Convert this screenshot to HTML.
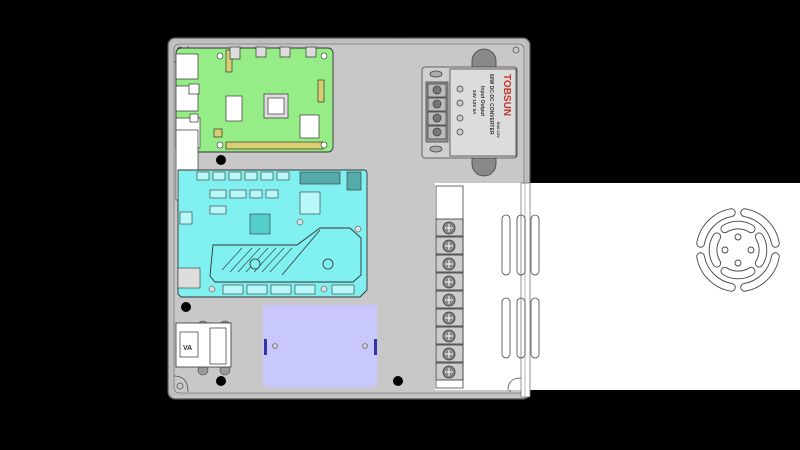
<!DOCTYPE html>
<html><head><meta charset="utf-8"><style>
html,body{margin:0;padding:0;background:#000;width:800px;height:450px;overflow:hidden}
svg{display:block}
text{font-family:"Liberation Sans",sans-serif;font-weight:bold}
</style></head><body>
<svg width="800" height="450" viewBox="0 0 800 450" xmlns="http://www.w3.org/2000/svg">
<rect width="800" height="450" fill="#000"/>
<!-- enclosure -->
<rect x="168" y="38" width="362" height="361" rx="7" fill="#c4c4c4" stroke="#555" stroke-width="1.2"/>
<rect x="174" y="44" width="350" height="349" rx="5" fill="#c8c8c8" stroke="#777" stroke-width="0.8"/>
<g stroke="#aaa" stroke-width="0.6">
<line x1="170" y1="41" x2="528" y2="41"/><line x1="170" y1="395" x2="528" y2="395"/>
<line x1="171" y1="40" x2="171" y2="397"/><line x1="527" y1="40" x2="527" y2="397"/>
<line x1="260" y1="38" x2="260" y2="46"/><line x1="400" y1="38" x2="400" y2="46"/>
</g>
<g fill="none" stroke="#555" stroke-width="0.8">
<circle cx="180" cy="50" r="3"/><circle cx="516" cy="50" r="3"/>
<circle cx="180" cy="386" r="3"/><circle cx="516" cy="386" r="3"/>
<path d="M174 376 q14 0 14 16"/><path d="M524 376 q-14 0 -14 16"/>
<path d="M174 62 q14 0 14 -16"/>
</g>
<!-- PSU -->
<rect x="435" y="183" width="365" height="207" fill="#fff"/>
<rect x="436" y="186" width="27" height="202" fill="#fff" stroke="#444" stroke-width="0.8"/>
<g stroke="#333" stroke-width="0.8">
<rect x="436" y="219" width="27" height="17" fill="#ccc"/>
<rect x="436" y="237" width="27" height="17" fill="#ccc"/>
<rect x="436" y="255" width="27" height="17" fill="#ccc"/>
<rect x="436" y="273" width="27" height="17" fill="#ccc"/>
<rect x="436" y="291" width="27" height="17" fill="#ccc"/>
<rect x="436" y="309" width="27" height="17" fill="#ccc"/>
<rect x="436" y="327" width="27" height="17" fill="#ccc"/>
<rect x="436" y="345" width="27" height="17" fill="#ccc"/>
<rect x="436" y="363" width="27" height="17" fill="#ccc"/>
</g>
<g fill="#888" stroke="#333" stroke-width="0.8">
<circle cx="449" cy="228" r="6"/><circle cx="449" cy="246" r="6"/><circle cx="449" cy="264" r="6"/>
<circle cx="449" cy="282" r="6"/><circle cx="449" cy="300" r="6"/><circle cx="449" cy="318" r="6"/>
<circle cx="449" cy="336" r="6"/><circle cx="449" cy="354" r="6"/><circle cx="449" cy="372" r="6"/>
</g>
<g stroke="#fff" stroke-width="1">
<path d="M445 228h8M449 224v8M445 246h8M449 242v8M445 264h8M449 260v8M445 282h8M449 278v8M445 300h8M449 296v8M445 318h8M449 314v8M445 336h8M449 332v8M445 354h8M449 350v8M445 372h8M449 368v8"/>
</g>
<rect x="521" y="183" width="9" height="214" fill="#fff" stroke="#666" stroke-width="0.7"/>
<line x1="525" y1="183" x2="525" y2="397" stroke="#888" stroke-width="0.6"/>
<path d="M508 390 q0 -12 13 -12" fill="none" stroke="#555" stroke-width="0.8"/>
<g fill="none" stroke="#444" stroke-width="0.8">
<rect x="502" y="215" width="8" height="60" rx="4"/><rect x="517" y="215" width="8" height="60" rx="4"/><rect x="531" y="215" width="8" height="60" rx="4"/>
<rect x="502" y="298" width="8" height="60" rx="4"/><rect x="517" y="298" width="8" height="60" rx="4"/><rect x="531" y="298" width="8" height="60" rx="4"/>
</g>
<!-- fan -->
<g transform="translate(738,250)" fill="none" stroke-linecap="round">
<g stroke="#444" stroke-width="8.6">
<path d="M-37.4 -6.6 A38 38 0 0 1 -6.6 -37.4"/><path d="M6.6 -37.4 A38 38 0 0 1 37.4 -6.6"/>
<path d="M37.4 6.6 A38 38 0 0 1 6.6 37.4"/><path d="M-6.6 37.4 A38 38 0 0 1 -37.4 6.6"/>
<path d="M-13.2 -21.2 A25 25 0 0 1 13.2 -21.2"/><path d="M21.2 -13.2 A25 25 0 0 1 21.2 13.2"/>
<path d="M13.2 21.2 A25 25 0 0 1 -13.2 21.2"/><path d="M-21.2 13.2 A25 25 0 0 1 -21.2 -13.2"/>
</g>
<g stroke="#fff" stroke-width="6.8">
<path d="M-37.4 -6.6 A38 38 0 0 1 -6.6 -37.4"/><path d="M6.6 -37.4 A38 38 0 0 1 37.4 -6.6"/>
<path d="M37.4 6.6 A38 38 0 0 1 6.6 37.4"/><path d="M-6.6 37.4 A38 38 0 0 1 -37.4 6.6"/>
<path d="M-13.2 -21.2 A25 25 0 0 1 13.2 -21.2"/><path d="M21.2 -13.2 A25 25 0 0 1 21.2 13.2"/>
<path d="M13.2 21.2 A25 25 0 0 1 -13.2 21.2"/><path d="M-21.2 13.2 A25 25 0 0 1 -21.2 -13.2"/>
</g>
<g stroke="#444" stroke-width="0.9">
<circle cx="0" cy="-13" r="3"/><circle cx="0" cy="13" r="3"/><circle cx="-13" cy="0" r="3"/><circle cx="13" cy="0" r="3"/>
</g>
</g>
<!-- converter -->
<g stroke="#444" stroke-width="0.8">
<path d="M472 67 v-6 a12 12 0 0 1 24 0 v6z" fill="#888"/>
<path d="M472 158 v6 a12 12 0 0 0 24 0 v-6z" fill="#888"/>
<rect x="422" y="67" width="95" height="91" rx="3" fill="#d0d0d0"/>
<rect x="450" y="69" width="66" height="87" fill="#dcdcdc"/>
<rect x="426" y="82" width="22" height="60" fill="#999"/>
<rect x="428" y="84" width="18" height="13" fill="#bbb"/><rect x="428" y="98" width="18" height="13" fill="#bbb"/>
<rect x="428" y="112" width="18" height="13" fill="#bbb"/><rect x="428" y="126" width="18" height="13" fill="#bbb"/>
<circle cx="437" cy="90" r="4" fill="#777"/><circle cx="437" cy="104" r="4" fill="#777"/><circle cx="437" cy="118" r="4" fill="#777"/><circle cx="437" cy="132" r="4" fill="#777"/>
<ellipse cx="436" cy="74" rx="6" ry="3" fill="#aaa"/><ellipse cx="436" cy="149" rx="6" ry="3" fill="#aaa"/>
<circle cx="460" cy="89" r="3" fill="#ccc"/><circle cx="460" cy="103" r="3" fill="#ccc"/><circle cx="460" cy="118" r="3" fill="#ccc"/><circle cx="460" cy="132" r="3" fill="#ccc"/>
</g>
<text transform="translate(504,74) rotate(90)" font-size="10" fill="#c0392b">TOBSUN</text>
<text transform="translate(490,74) rotate(90)" font-size="5" fill="#333">60W DC-DC CONVERTER</text>
<text transform="translate(481,86) rotate(90)" font-size="5" fill="#333">Input  Output</text>
<text transform="translate(473,90) rotate(90)" font-size="4.5" fill="#333">24V    12V 5A</text>
<text transform="translate(497,122) rotate(90)" font-size="4" fill="#333">B40-12V</text>
<!-- green board -->
<rect x="176" y="48" width="157" height="104" rx="5" fill="#96ec86" stroke="#333" stroke-width="0.9"/>
<g stroke="#333" stroke-width="0.7">
<rect x="176" y="54" width="22" height="25" fill="#fff"/>
<rect x="176" y="86" width="22" height="25" fill="#fff"/>
<rect x="176" y="118" width="24" height="30" fill="#fff"/>
<rect x="176" y="130" width="22" height="70" fill="#fff"/>
<rect x="226" y="96" width="16" height="25" fill="#fff"/>
<rect x="264" y="94" width="24" height="24" fill="#ddd"/><rect x="268" y="98" width="16" height="16" fill="#fff"/>
<rect x="300" y="115" width="19" height="23" fill="#fff"/>
<rect x="226" y="50" width="6" height="22" fill="#d8d070"/>
<rect x="318" y="80" width="6" height="22" fill="#d8d070"/>
<rect x="230" y="47" width="10" height="12" fill="#ddd"/><rect x="256" y="47" width="10" height="10" fill="#ddd"/>
<rect x="280" y="47" width="10" height="10" fill="#ddd"/><rect x="306" y="47" width="10" height="10" fill="#ddd"/>
<rect x="189" y="84" width="10" height="10" fill="#fff"/><rect x="190" y="114" width="8" height="8" fill="#fff"/>
<rect x="226" y="142" width="97" height="7" fill="#d8d070"/>
<rect x="214" y="129" width="8" height="8" fill="#d8d070"/>
</g>
<g fill="#fff" stroke="#333" stroke-width="0.6">
<circle cx="220" cy="56" r="3"/><circle cx="324" cy="56" r="3"/><circle cx="220" cy="145" r="3"/><circle cx="324" cy="145" r="3"/>
</g>
<circle cx="221" cy="160" r="5" fill="#000"/>
<!-- cyan board -->
<path d="M178 170 H364 a3 3 0 0 1 3 3 V290 l-7 7 H181 l-3 -3z" fill="#80f0f0" stroke="#333" stroke-width="0.9"/>
<g fill="#b8f8f8" stroke="#333" stroke-width="0.6">
<rect x="197" y="172" width="12" height="8"/><rect x="213" y="172" width="12" height="8"/><rect x="229" y="172" width="12" height="8"/>
<rect x="245" y="172" width="12" height="8"/><rect x="261" y="172" width="12" height="8"/><rect x="277" y="172" width="12" height="8"/>
<rect x="300" y="172" width="40" height="12" fill="#5aa"/><rect x="347" y="172" width="14" height="18" fill="#5aa"/>
<rect x="210" y="190" width="16" height="8"/><rect x="230" y="190" width="16" height="8"/><rect x="250" y="190" width="12" height="8"/><rect x="266" y="190" width="12" height="8"/>
<rect x="210" y="206" width="16" height="8"/><rect x="300" y="192" width="20" height="22"/>
<rect x="250" y="214" width="20" height="20" fill="#5cc"/>
<rect x="223" y="285" width="20" height="9"/><rect x="247" y="285" width="20" height="9"/><rect x="271" y="285" width="20" height="9"/><rect x="295" y="285" width="20" height="9"/><rect x="332" y="285" width="22" height="9"/>
<rect x="180" y="212" width="12" height="12"/>
<rect x="178" y="268" width="22" height="20" fill="#ddd"/>
</g>
<path d="M213 245 H297 L320 228 H350 L361 238 V275 L353 282 H215 L210 276Z" fill="#80f0f0" stroke="#333" stroke-width="0.9"/>
<line x1="282" y1="275" x2="320" y2="230" stroke="#333" stroke-width="0.8"/>
<g stroke="#333" stroke-width="0.6">
<path d="M222 270 l20 -22 M230 272 l22 -24 M238 272 l22 -24 M246 272 l22 -24 M254 272 l22 -24 M262 272 l22 -24 M270 272 l22 -24"/>
</g>
<g fill="#80f0f0" stroke="#333" stroke-width="0.8"><circle cx="255" cy="264" r="5"/><circle cx="328" cy="264" r="5"/></g>
<g fill="#ddd" stroke="#333" stroke-width="0.5"><circle cx="212" cy="289" r="3"/><circle cx="324" cy="289" r="3"/><circle cx="358" cy="229" r="3"/><circle cx="300" cy="222" r="3"/></g>
<circle cx="186" cy="307" r="5" fill="#000"/>
<!-- bottom-left module -->
<g stroke="#444" stroke-width="0.6" fill="#999">
<circle cx="203" cy="326" r="5"/><circle cx="225" cy="326" r="5"/><circle cx="203" cy="370" r="5"/><circle cx="225" cy="370" r="5"/>
</g>
<rect x="176" y="323" width="55" height="44" fill="#fff" stroke="#333" stroke-width="0.8"/>
<rect x="180" y="332" width="18" height="25" fill="#fff" stroke="#333" stroke-width="0.7"/>
<rect x="210" y="328" width="16" height="36" fill="#fff" stroke="#333" stroke-width="0.7"/>
<text x="183" y="350" font-size="7" fill="#333">VA</text>
<circle cx="221" cy="381" r="5" fill="#000"/><circle cx="398" cy="381" r="5" fill="#000"/>
<!-- blue plate -->
<rect x="263" y="305" width="114" height="82" fill="#c8c8ff"/>
<rect x="264" y="339" width="3" height="16" fill="#3333aa"/><rect x="374" y="339" width="3" height="16" fill="#3333aa"/>
<circle cx="275" cy="346" r="2.5" fill="#ccc" stroke="#555" stroke-width="0.6"/><circle cx="365" cy="346" r="2.5" fill="#ccc" stroke="#555" stroke-width="0.6"/>
</svg>
</body></html>
